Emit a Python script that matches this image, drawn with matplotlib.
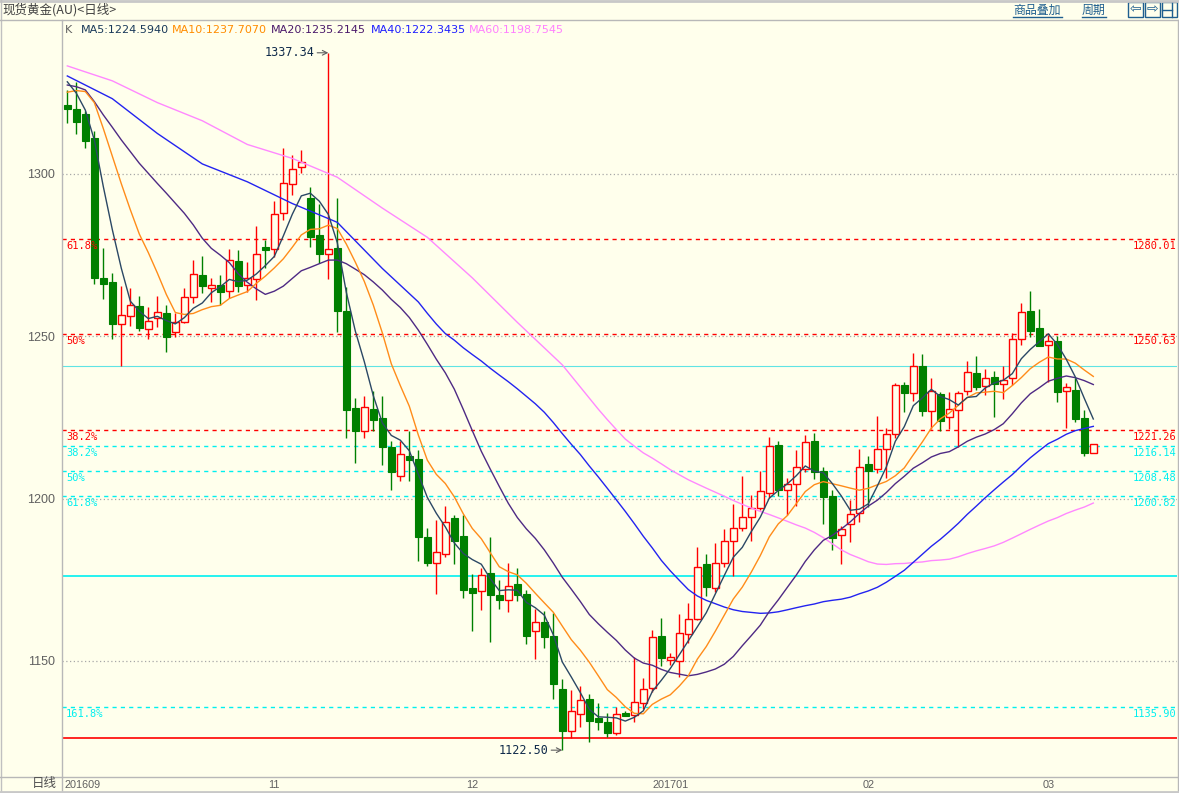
import matplotlib
matplotlib.use('Agg')
import matplotlib.pyplot as plt
import numpy as np
from matplotlib.patches import Rectangle
from matplotlib.lines import Line2D
import matplotlib.transforms as mtransforms

# ---------------- data ----------------
opens = [1321.3, 1320.0, 1318.5, 1311.0, 1267.9, 1266.6, 1253.7, 1256.3, 1259.3, 1252.2,
         1255.5, 1257.1, 1251.4, 1254.3, 1262.0, 1268.9, 1264.8, 1265.8, 1264.1, 1273.2,
         1265.8, 1267.6, 1277.4, 1276.9, 1287.9, 1296.8, 1302.1, 1292.5, 1281.2, 1275.3,
         1277.3, 1257.7, 1227.8, 1220.7, 1227.5, 1224.9, 1215.9, 1207.0, 1213.2, 1212.1,
         1188.2, 1180.2, 1183.0, 1193.9, 1188.5, 1172.4, 1171.4, 1177.1, 1170.3, 1168.8,
         1173.6, 1170.5, 1159.1, 1162.0, 1157.7, 1141.2, 1128.3, 1133.6, 1138.2, 1132.3,
         1131.2, 1127.7, 1133.9, 1133.3, 1137.1, 1141.7, 1157.7, 1150.3, 1150.0, 1158.3,
         1162.8, 1179.8, 1172.4, 1180.3, 1186.8, 1190.9, 1194.2, 1197.0, 1201.6, 1216.5,
         1202.5, 1204.4, 1209.0, 1217.7, 1208.5, 1200.8, 1188.8, 1192.1, 1195.5, 1210.7,
         1209.0, 1215.2, 1219.8, 1234.9, 1232.6, 1240.8, 1227.1, 1232.2, 1225.0, 1227.3,
         1233.1, 1238.6, 1234.8, 1237.4, 1235.2, 1237.2, 1249.1, 1257.8, 1252.5, 1247.3,
         1248.6, 1233.1, 1233.5, 1224.9, 1214.1]
highs = [1325.9, 1328.3, 1319.5, 1313.2, 1277.1, 1269.4, 1265.5, 1264.8, 1262.4, 1258.9,
         1262.4, 1259.6, 1257.1, 1264.8, 1273.5, 1274.7, 1268.1, 1268.9, 1276.8, 1276.6,
         1273.0, 1284.0, 1279.7, 1291.7, 1307.9, 1305.9, 1307.4, 1296.1, 1290.8, 1337.34,
         1292.5, 1265.3, 1231.1, 1231.5, 1233.0, 1231.7, 1217.8, 1217.8, 1220.9, 1214.9,
         1191.0, 1193.3, 1197.8, 1195.0, 1195.0, 1176.8, 1178.5, 1188.2, 1175.0, 1180.2,
         1178.5, 1171.9, 1166.0, 1165.4, 1164.8, 1144.3, 1141.1, 1142.3, 1139.8, 1136.9,
         1133.9, 1135.9, 1134.6, 1151.1, 1144.6, 1159.5, 1163.1, 1152.3, 1164.4, 1167.7,
         1185.2, 1182.9, 1186.2, 1190.5, 1198.3, 1207.0, 1201.1, 1208.6, 1219.1, 1217.7,
         1206.3, 1215.0, 1219.6, 1220.3, 1209.8, 1202.7, 1191.6, 1199.6, 1215.2, 1213.1,
         1225.4, 1221.7, 1235.5, 1236.0, 1244.9, 1244.5, 1237.1, 1232.9, 1232.9, 1233.1,
         1242.5, 1243.9, 1239.8, 1239.3, 1240.8, 1250.9, 1260.4, 1264.0, 1258.4, 1250.4,
         1250.1, 1235.5, 1237.1, 1227.3, 1216.8]
lows = [1315.6, 1312.2, 1308.1, 1266.0, 1261.4, 1249.1, 1240.8, 1253.2, 1251.6, 1249.3,
        1252.8, 1245.3, 1249.9, 1254.1, 1260.2, 1263.2, 1260.7, 1259.6, 1261.7, 1263.7,
        1263.5, 1261.2, 1270.9, 1274.5, 1285.8, 1293.5, 1300.2, 1277.6, 1272.7, 1267.6,
        1251.2, 1218.6, 1211.0, 1218.6, 1220.7, 1210.2, 1202.7, 1205.3, 1205.3, 1180.8,
        1179.3, 1170.5, 1182.1, 1179.7, 1169.4, 1159.3, 1165.7, 1155.7, 1166.0, 1165.0,
        1168.5, 1155.1, 1150.6, 1153.9, 1138.4, 1122.5, 1126.3, 1129.5, 1125.1, 1128.7,
        1126.6, 1127.2, 1133.1, 1131.1, 1135.1, 1140.5, 1148.4, 1148.7, 1145.0, 1155.4,
        1162.6, 1170.1, 1171.3, 1179.0, 1176.2, 1190.1, 1187.0, 1196.5, 1200.1, 1200.8,
        1194.9, 1197.7, 1208.3, 1205.9, 1192.2, 1184.2, 1179.8, 1186.7, 1192.9, 1197.5,
        1207.8, 1206.3, 1218.8, 1226.8, 1230.2, 1225.4, 1221.3, 1220.9, 1221.3, 1216.0,
        1231.9, 1233.5, 1231.9, 1225.2, 1230.6, 1235.0, 1247.3, 1249.9, 1247.1, 1236.0,
        1229.9, 1221.7, 1223.7, 1213.1, 1214.0]
closes = [1320.1, 1316.1, 1310.3, 1268.1, 1266.0, 1253.9, 1256.5, 1259.6, 1252.6, 1254.7,
          1257.4, 1249.9, 1254.5, 1262.2, 1269.1, 1265.6, 1265.7, 1263.7, 1273.5, 1265.6,
          1267.9, 1275.3, 1276.6, 1287.6, 1297.1, 1301.4, 1303.6, 1280.7, 1275.3, 1276.8,
          1257.7, 1227.4, 1220.9, 1228.1, 1224.3, 1215.9, 1208.1, 1213.6, 1211.8, 1188.2,
          1180.2, 1183.6, 1192.7, 1187.0, 1171.9, 1170.9, 1176.4, 1170.3, 1168.8, 1173.1,
          1170.3, 1157.7, 1162.0, 1157.4, 1142.9, 1128.3, 1134.6, 1138.0, 1131.6, 1131.3,
          1127.7, 1133.6, 1133.1, 1137.4, 1141.3, 1157.5, 1150.8, 1151.3, 1158.5, 1162.8,
          1179.0, 1172.7, 1180.1, 1187.0, 1190.9, 1194.2, 1197.0, 1202.3, 1216.3, 1202.7,
          1204.4, 1209.6, 1217.3, 1208.1, 1200.4, 1187.8, 1190.5, 1195.2, 1209.8, 1208.6,
          1215.2, 1219.8, 1234.9, 1232.4, 1240.8, 1227.1, 1233.1, 1224.0, 1227.5, 1232.4,
          1238.9, 1234.5, 1237.2, 1235.2, 1236.5, 1249.1, 1257.4, 1251.6, 1247.1, 1248.6,
          1232.9, 1234.3, 1224.5, 1214.1, 1216.8]

ma5_head = [1328.4, 1324.9, 1319.7, 1310.5]
ma10_head = [1325.2, 1325.7, 1325.4, 1322.0, 1314.0, 1305.5, 1297.0, 1289.0, 1281.5]
ma20_head = [1327.4, 1326.9, 1325.9, 1322.3, 1318.2, 1314.4, 1310.5, 1306.9, 1303.3, 1300.2,
             1297.1, 1294.1, 1291.0, 1287.9, 1284.3, 1280.2, 1277.1, 1275.0, 1272.7]
ma40_head_idx = [0, 5, 10, 15, 20, 25, 30, 35]
ma40_head = [1330.2, 1323.2, 1312.5, 1303.1, 1297.6, 1290.9, 1285.1, 1270.9]
ma60_head_idx = [0, 5, 10, 15, 20, 25, 30, 35, 40, 45, 50, 55]
ma60_head = [1333.3, 1328.7, 1322.0, 1316.4, 1309.1, 1304.8, 1299.0, 1289.5, 1280.5, 1268.0,
             1254.3, 1241.2]

ma_labels = ['MA5:1224.5940', 'MA10:1237.7070', 'MA20:1235.2145', 'MA40:1222.3435', 'MA60:1198.7545']

red_fib_levels = [1280.01, 1250.63, 1221.26]
red_fib_pct = ['61.8%', '50%', '38.2%']
red_fib_base = 1126.18
cyan_fib_levels = [1216.14, 1208.48, 1200.82, 1135.90]
cyan_fib_pct = ['38.2%', '50%', '61.8%', '161.8%']
cyan_fib_top = 1240.93
cyan_fib_bottom = 1176.03

month_idx = [0, 23, 45, 67, 89, 109]
month_lbl = ['201609', '11', '12', '201701', '02', '03']
yticks = [1150, 1200, 1250, 1300]
hi_idx, hi_val = 29, 1337.34
lo_idx, lo_val = 55, 1122.50

# ---------------- figure ----------------
W, H = 1179, 793
DPI = 100
BG = '#FFFFEC'
GRID = '#B8B8B8'
fig = plt.figure(figsize=(W / DPI, H / DPI), dpi=DPI)
fig.patch.set_facecolor(BG)


def box(l, t, r, b):
    return [l / W, 1 - b / H, (r - l) / W, (b - t) / H]


def fline(x0, y0, x1, y1, color=GRID, lw=1.0, **kw):
    fig.add_artist(Line2D([x0 / W, x1 / W], [1 - y0 / H, 1 - y1 / H],
                          transform=fig.transFigure, color=color, lw=lw, **kw))


ax = fig.add_axes(box(62, 20, 1177, 776))
ax.set_facecolor(BG)
n = len(closes)
ax.set_xlim(-0.59, 123.3)
ax.set_ylim(1114.54, 1347.44)
for s in ax.spines.values():
    s.set_visible(False)

# grid
for v in yticks:
    ax.axhline(v, color='#A8A8A8', lw=0.9, ls=(0, (1, 2)), zorder=1)

# fib lines
RED = '#FF0000'
CYAN = '#00F0F0'
mono = 'DejaVu Sans Mono'
left_off = mtransforms.ScaledTranslation(4 / DPI, -2 / DPI, fig.dpi_scale_trans)
right_off = mtransforms.ScaledTranslation(-1 / DPI, -2 / DPI, fig.dpi_scale_trans)
blend = mtransforms.blended_transform_factory(ax.transAxes, ax.transData)
for v, p in zip(red_fib_levels, red_fib_pct):
    ax.axhline(v, color=RED, lw=1.0, ls=(0, (3, 3)), zorder=2)
    ax.text(0, v, p, transform=blend + left_off, color=RED, fontsize=7.5,
            family=mono, ha='left', va='top', zorder=10)
    ax.text(1, v, f'{v:.2f}', transform=blend + right_off, color=RED, fontsize=7.5,
            family=mono, ha='right', va='top', zorder=10)
ax.axhline(red_fib_base, color=RED, lw=1.2, zorder=2)
for v, p in zip(cyan_fib_levels, cyan_fib_pct):
    ax.axhline(v, color=CYAN, lw=1.0, ls=(0, (3, 3)), zorder=2)
    ax.text(0, v, p, transform=blend + left_off, color=CYAN, fontsize=7.5,
            family=mono, ha='left', va='top', zorder=10)
    ax.text(1, v, f'{v:.2f}', transform=blend + right_off, color=CYAN, fontsize=7.5,
            family=mono, ha='right', va='top', zorder=10)
ax.axhline(cyan_fib_top, color='#60E4E4', lw=0.8, zorder=2)
ax.axhline(cyan_fib_bottom, color=CYAN, lw=1.2, zorder=2)

# candles
UP = '#FF0000'
DN = '#008000'
bw = 0.72
for i in range(n):
    o, h, l, c = opens[i], highs[i], lows[i], closes[i]
    if c >= o:
        top, bot = c, o
        ax.plot([i, i], [l, bot], color=UP, lw=1.0, zorder=5, solid_capstyle='butt')
        ax.plot([i, i], [top, h], color=UP, lw=1.0, zorder=5, solid_capstyle='butt')
        ax.add_patch(Rectangle((i - bw / 2, bot), bw, max(top - bot, 0.3),
                               facecolor=BG, edgecolor=UP, lw=1.0, zorder=6))
    else:
        top, bot = o, c
        ax.plot([i, i], [l, h], color=DN, lw=1.0, zorder=5, solid_capstyle='butt')
        ax.add_patch(Rectangle((i - bw / 2, bot), bw, max(top - bot, 0.3),
                               facecolor=DN, edgecolor=DN, lw=0.8, zorder=6))

# moving averages
cl = np.array(closes)


def ma_line(w, head_x, head_y):
    comp = np.convolve(cl, np.ones(w) / w, mode='valid')
    xs = np.concatenate([np.array(head_x, float), np.arange(w - 1, n)])
    ys = np.concatenate([np.array(head_y, float), comp])
    return xs, ys


ma_cfg = [
    (5, list(range(4)), ma5_head, '#2B4865'),
    (10, list(range(9)), ma10_head, '#FF8C1A'),
    (20, list(range(19)), ma20_head, '#4E2A84'),
    (40, ma40_head_idx, ma40_head, '#2323F0'),
    (60, ma60_head_idx, ma60_head, '#FF88FF'),
]
for w, hx, hy, col in reversed(ma_cfg):
    xs, ys = ma_line(w, hx, hy)
    ax.plot(xs, ys, color=col, lw=1.0, zorder=7)

# high / low annotations
for idx, val in [(hi_idx, hi_val), (lo_idx, lo_val)]:
    ax.annotate(f'{val:.2f}', xy=(idx, val), xytext=(-10, 0),
                textcoords='offset points', ha='right', va='center', fontsize=8.5,
                family=mono, color='#0F2A4A', zorder=8,
                arrowprops=dict(arrowstyle='->', color='#606060', lw=0.8,
                                shrinkA=0, shrinkB=0))

# y ticks
ax.set_yticks(yticks)
ax.set_yticklabels([str(v) for v in yticks], fontsize=9, color='#606060',
                   family='Liberation Sans')
ax.tick_params(axis='y', length=0, pad=5)
ax.set_xticks([])

# x labels (below axes)
xblend = mtransforms.blended_transform_factory(ax.transData, fig.transFigure)
for k, (ix, lb) in enumerate(zip(month_idx, month_lbl)):
    if k == 0:
        ax.text(ix, 1 - 785 / H, lb,
                transform=xblend + mtransforms.ScaledTranslation(-3 / DPI, 0, fig.dpi_scale_trans),
                ha='left', va='center', fontsize=7.8, color='#606060', family='Liberation Sans')
    else:
        ax.text(ix, 1 - 785 / H, lb, transform=xblend, ha='center', va='center',
                fontsize=7.8, color='#606060', family='Liberation Sans')
fig.text(57 / W, 1 - 784 / H, '日线', ha='right', va='center', fontsize=9,
         color='#505050', family=['Noto Sans CJK SC', 'DejaVu Sans'])

# frame lines
fline(0, 1, W, 1, color='#C8C8C8', lw=2)
fline(0.5, 0, 0.5, H, color='#C0C0C0')
fline(0, 20, 1177.5, 20, color='#B8B8B8')
fline(62, 20, 62, 793, color='#B8B8B8')
fline(1177.5, 20, 1177.5, 793, color='#B8B8B8')
fline(0, 776.5, 1177.5, 776.5, color='#B8B8B8')
fline(0, 792, W, 792, color='#C8C8C8', lw=2)

# header
fig.text(2 / W, 1 - 10 / H, '现货黄金(AU)<日线>', ha='left', va='center', fontsize=9,
         color='#404040', family=['Noto Sans CJK SC', 'DejaVu Sans'])
fig.text(65 / W, 1 - 30 / H, 'K', ha='left', va='center', fontsize=8, color='#606060')
ma_text_x = [80.5, 171.6, 271, 371, 469]
ma_text_col = ['#1A3A5A', '#FF8C00', '#4B1A6B', '#1F1FFF', '#FF80FF']
for x, t, col in zip(ma_text_x, ma_labels, ma_text_col):
    fig.text(x / W, 1 - 30 / H, t, ha='left', va='center', fontsize=8, color=col)

LINK = '#1F5F8F'
fig.text(1013 / W, 1 - 10 / H, '商品叠加', ha='left', va='center', fontsize=8.6,
         color=LINK, family=['Noto Sans CJK SC', 'DejaVu Sans'])
fline(1013, 16.5, 1062, 16.5, color=LINK)
fig.text(1082 / W, 1 - 10 / H, '周期', ha='left', va='center', fontsize=8.6,
         color=LINK, family=['Noto Sans CJK SC', 'DejaVu Sans'])
fline(1082, 16.5, 1106, 16.5, color=LINK)
for (l, r), sym in zip([(1128, 1143), (1144.5, 1160), (1161.5, 1177)], ['⇦', '⇨', '']):
    fig.add_artist(Rectangle((l / W, 1 - 16.5 / H), (r - l) / W, 14 / H,
                             transform=fig.transFigure, fill=False, edgecolor=LINK, lw=1))
    if sym:
        fig.text((l + r) / 2 / W, 1 - 9.5 / H, sym, ha='center', va='center',
                 fontsize=10, color=LINK, family='DejaVu Sans')
fline(1161.5, 9.5, 1172, 9.5, color=LINK)
fline(1172, 2.5, 1172, 16.5, color=LINK)

fig.savefig('out.png', dpi=DPI, facecolor=BG)
